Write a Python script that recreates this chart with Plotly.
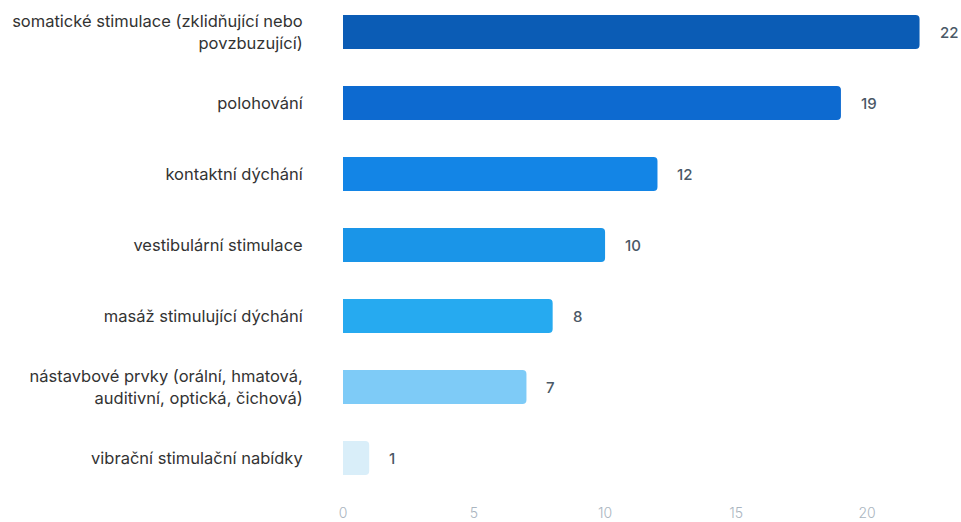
import plotly.graph_objects as go

categories = [
    "somatické stimulace (zklidňující nebo<br>povzbuzující)",
    "polohování",
    "kontaktní dýchání",
    "vestibulární stimulace",
    "masáž stimulující dýchání",
    "nástavbové prvky (orální, hmatová,<br>auditivní, optická, čichová)",
    "vibrační stimulační nabídky",
]
values = [22, 19, 12, 10, 8, 7, 1]
bar_colors = ["#0b5cb5", "#0d6ad0", "#1385e6", "#1a95e8", "#26aaf0", "#7ecbf7", "#d9eef9"]
x_ticks = [0, 5, 10, 15, 20]

fig = go.Figure()
fig.add_trace(go.Bar(
    y=list(range(len(categories))),
    x=values,
    orientation="h",
    marker=dict(color=bar_colors, line=dict(width=0)),
    width=0.48,
    hoverinfo="skip",
))

for i, v in enumerate(values):
    fig.add_annotation(
        x=v, y=i, text=str(v), showarrow=False, xanchor="left", xshift=19,
        borderpad=0,
        font=dict(family="Inter, Lato, sans-serif", size=15, color="#4a5866", weight=500),
    )

fig.update_layout(
    width=961, height=522,
    margin=dict(l=343, r=10, t=0, b=28),
    plot_bgcolor="white", paper_bgcolor="white",
    showlegend=False,
    barcornerradius=4,
    font=dict(family="Inter, Lato, sans-serif"),
)
fig.update_xaxes(
    range=[0, 23.2], tickvals=x_ticks, showgrid=False, zeroline=False,
    showline=False, ticks="outside", ticklen=6, tickcolor="rgba(0,0,0,0)",
    tickfont=dict(size=14, color="#aab5c0", weight=300),
)
fig.update_yaxes(
    range=[6.507, -0.451],
    tickvals=list(range(len(categories))), ticktext=categories,
    showgrid=False, zeroline=False, showline=False,
    ticks="outside", ticklen=36, tickcolor="rgba(0,0,0,0)",
    tickfont=dict(size=16.5, color="#333333"),
)

fig.write_html(
    "out.html",
    config={"displayModeBar": False},
    post_script="document.body.style.margin='0';document.body.style.overflow='hidden';",
)
